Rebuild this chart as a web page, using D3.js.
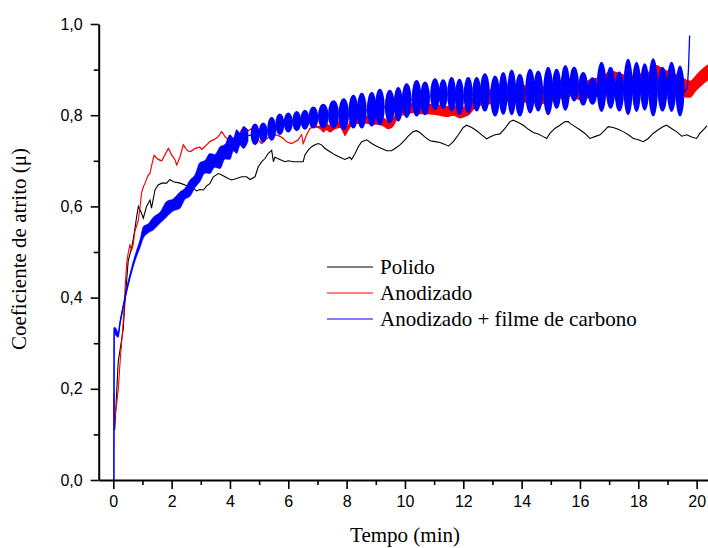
<!DOCTYPE html>
<html><head><meta charset="utf-8">
<script src="https://cdn.jsdelivr.net/npm/d3@7"></script>
<style>body{margin:0;background:#fff}svg{display:block}</style>
</head><body><svg id="c" width="708" height="548"></svg>
<script>
const xMajorTicks = [0,2,4,6,8,10,12,14,16,18,20];
const xMinorTicks = [1,3,5,7,9,11,13,15,17,19];
const yMajorTicks = [0,0.2,0.4,0.6,0.8,1.0];
const yMinorTicks = [0.1,0.3,0.5,0.7,0.9];
const xTitle = "Tempo (min)";
const yTitle = "Coeficiente de atrito (\u03bc)";
const seriesNames = ["Polido","Anodizado","Anodizado + filme de carbono"];
const seriesColors = ["#000000","#ff0000","#0000ff"];

// Polido: [tempo, coeficiente]
const polido = [
[0.05,.11],[0.17,.26],[0.34,.33],[0.4,.39],[0.51,.48],[0.63,.51],[0.69,.53],[0.74,.55],[0.8,.577],[0.86,.6],
[0.97,.585],[1.03,.574],[1.14,.6],[1.26,.614],[1.31,.596],[1.43,.636],[1.54,.647],[1.66,.651],[1.83,.651],[1.94,.659],
[2.06,.654],[2.29,.651],[2.46,.647],[2.63,.641],[2.74,.64],[2.86,.634],[2.97,.637],[3.09,.636],[3.2,.645],[3.31,.65],
[3.43,.665],[3.6,.672],[3.72,.669],[3.83,.665],[3.94,.661],[4.06,.658],[4.23,.661],[4.4,.665],[4.57,.665],[4.69,.659],
[4.86,.665],[4.97,.687],[5.09,.698],[5.2,.705],[5.31,.716],[5.43,.723],[5.49,.698],[5.54,.708],[5.71,.703],[5.89,.698],
[6.0,.7],[6.17,.698],[6.4,.698],[6.51,.698],[6.57,.713],[6.69,.724],[6.8,.731],[6.91,.735],[7.03,.738],[7.14,.735],
[7.26,.727],[7.43,.72],[7.6,.713],[7.77,.708],[7.94,.703],[8.11,.708],[8.17,.703],[8.29,.716],[8.4,.731],[8.52,.742],
[8.69,.746],[8.86,.738],[9.03,.732],[9.2,.727],[9.37,.722],[9.54,.722],[9.66,.727],[9.83,.735],[10.0,.746],[10.11,.754],
[10.28,.764],[10.4,.766],[10.51,.762],[10.69,.752],[10.86,.744],[11.03,.742],[11.2,.74],[11.37,.736],[11.49,.732],[11.66,.742],
[11.83,.757],[12.0,.773],[12.11,.778],[12.29,.773],[12.46,.766],[12.63,.757],[12.8,.748],[12.91,.752],[13.09,.757],[13.26,.759],
[13.43,.771],[13.6,.786],[13.71,.789],[13.89,.784],[14.06,.778],[14.23,.769],[14.4,.762],[14.57,.759],[14.74,.753],[14.86,.749],
[14.97,.76],[15.14,.771],[15.31,.778],[15.49,.786],[15.6,.786],[15.66,.782],[15.83,.775],[16.0,.768],[16.17,.76],[16.34,.749],
[16.51,.753],[16.69,.757],[16.86,.768],[16.97,.775],[17.14,.773],[17.31,.769],[17.48,.764],[17.66,.757],[17.83,.749],[18.0,.746],
[18.17,.742],[18.34,.749],[18.51,.76],[18.68,.768],[18.86,.775],[18.97,.778],[19.14,.771],[19.31,.764],[19.49,.754],[19.66,.757],
[19.83,.752],[20.0,.749],[20.11,.76],[20.23,.768],[20.36,.777]
];

// Anodizado: [tempo, coeficiente, meia-amplitude da oscilacao]
const anodizado = [
[0.02,.19,.001],[0.03,.11,.001],[0.06,.139,.001],[0.17,.197,.001],[0.23,.256,.001],[0.32,.329,.001],[0.37,.373,.001],[0.4,.417,.001],
[0.46,.475,.001],[0.51,.497,.001],[0.57,.515,.001],[0.63,.504,.001],[0.69,.519,.001],[0.74,.545,.001],[0.86,.57,.001],[0.92,.6,.001],
[0.97,.629,.001],[1.03,.643,.001],[1.09,.651,.001],[1.2,.669,.001],[1.26,.673,.001],[1.32,.691,.001],[1.4,.712,.001],[1.5,.705,.001],
[1.66,.7,.001],[1.77,.713,.001],[1.89,.727,.001],[2.0,.713,.001],[2.12,.702,.001],[2.17,.691,.001],[2.29,.709,.001],[2.4,.735,.001],
[2.52,.724,.001],[2.63,.72,.001],[2.8,.727,.001],[2.97,.73,.001],[3.03,.725,.001],[3.2,.735,.001],[3.31,.742,.001],[3.49,.748,.001],
[3.6,.753,.001],[3.72,.764,.001],[3.83,.753,.001],[3.94,.746,.001],[4.06,.735,.001],[4.11,.722,.001],[4.17,.735,.001],[4.29,.753,.001],
[4.4,.768,.001],[4.51,.771,.001],[4.63,.766,.001],[4.74,.771,.001],[4.86,.76,.001],[4.97,.746,.001],[5.09,.738,.001],[5.2,.746,.001],
[5.37,.753,.001],[5.54,.757,.001],[5.71,.754,.001],[5.83,.749,.001],[5.94,.742,.001],[6.11,.738,.001],[6.23,.742,.001],[6.34,.746,.001],
[6.46,.757,.001],[6.51,.738,.001],[6.63,.757,.001],[6.74,.771,.001],[6.91,.775,.002],[7.09,.773,.004],[7.2,.768,.006],[7.31,.775,.008],
[7.43,.77,.008],[7.6,.777,.008],[7.77,.78,.008],[7.89,.768,.008],[7.94,.762,.008],[8.06,.774,.008],[8.23,.788,.009],[8.46,.79,.009],
[8.69,.79,.009],[8.86,.788,.009],[9.09,.788,.009],[9.26,.785,.01],[9.43,.779,.01],[9.6,.785,.01],[9.71,.798,.01],[9.89,.809,.01],
[10.06,.812,.011],[10.28,.816,.011],[10.51,.813,.011],[10.74,.813,.011],[10.97,.813,.012],[11.2,.811,.012],[11.43,.808,.012],[11.66,.811,.012],
[11.89,.805,.012],[12.06,.808,.012],[12.23,.815,.013],[12.34,.825,.014],[12.51,.834,.015],[12.8,.839,.016],[13.03,.842,.017],[13.26,.845,.018],
[13.49,.848,.018],[13.71,.845,.018],[13.94,.848,.019],[14.17,.846,.019],[14.4,.842,.019],[14.51,.852,.02],[14.63,.843,.02],[14.86,.847,.02],
[15.09,.85,.02],[15.31,.855,.02],[15.54,.86,.02],[15.66,.861,.02],[15.89,.855,.02],[16.11,.852,.02],[16.34,.859,.02],[16.57,.862,.02],
[16.8,.866,.02],[17.03,.878,.02],[17.26,.875,.02],[17.49,.87,.02],[17.71,.867,.02],[17.94,.87,.02],[18.17,.873,.02],[18.4,.877,.02],
[18.63,.89,.02],[18.86,.882,.02],[19.09,.876,.02],[19.31,.87,.02],[19.54,.862,.02],[19.66,.858,.02],[19.77,.857,.019],[20.0,.872,.018],
[20.23,.886,.018],[20.39,.894,.018]
];

// Anodizado + filme de carbono, first minutes: [tempo, centro, meia-amplitude]
const carbonoInicio = [
[0.02,0.0,.001],[0.03,.33,.005],[0.09,.325,.008],[0.17,.318,.005],[0.23,.344,.004],[0.34,.38,.004],[0.46,.417,.005],[0.57,.446,.005],
[0.69,.475,.006],[0.8,.497,.007],[0.92,.519,.009],[1.03,.543,.013],[1.2,.552,.01],[1.37,.562,.014],[1.6,.575,.012],[1.83,.594,.017],
[2.05,.603,.013],[2.29,.614,.018],[2.45,.627,.012],[2.63,.64,.018],[2.8,.655,.014],[2.97,.675,.021],[3.15,.687,.014],[3.31,.694,.022],
[3.48,.7,.014],[3.66,.707,.024],[3.83,.72,.016],[4.0,.73,.027],[4.12,.736,.014],[4.23,.742,.026],[4.35,.747,.013],[4.46,.751,.024],
[4.62,.755,.012]
];
// Anodizado + filme de carbono, each oscillation cycle: [tempo, centro, meia-amplitude]
const carbonoCiclos = [
[4.86,.758,.024],[5.14,.762,.022],[5.43,.77,.026],[5.71,.78,.024],[6.0,.784,.022],[6.29,.787,.022],[6.57,.79,.022],[6.86,.795,.024],
[7.2,.798,.027],[7.55,.802,.031],[7.9,.802,.035],[8.23,.808,.037],[8.52,.81,.039],[8.86,.813,.038],[9.14,.818,.04],[9.48,.819,.037],
[9.77,.824,.038],[10.06,.832,.038],[10.4,.837,.04],[10.69,.837,.037],[11.03,.846,.035],[11.31,.846,.033],[11.6,.846,.038],[11.87,.84,.04],
[12.17,.844,.04],[12.46,.846,.038],[12.74,.85,.042],[13.09,.842,.045],[13.37,.848,.047],[13.66,.85,.05],[13.94,.844,.047],[14.29,.853,.049],
[14.57,.853,.045],[14.91,.853,.053],[15.2,.858,.044],[15.5,.86,.05],[15.8,.868,.038],[16.11,.858,.037],[16.43,.853,.03],[16.74,.862,.055],
[17.05,.86,.046],[17.35,.852,.044],[17.65,.862,.062],[17.94,.862,.055],[18.22,.862,.052],[18.51,.861,.064],[18.83,.857,.049],[19.14,.862,.055],
[19.43,.853,.056]
];
// Anodizado + filme de carbono, final spike: [tempo, valor]
const carbonoFim = [[19.6,.852],[19.68,.86],[19.72,.9],[19.76,.975]];

const svg = d3.select("#c");
const x = d3.scaleLinear().domain([-0.5, 20.39]).range([98.7, 708]);
const y = d3.scaleLinear().domain([0, 1]).range([480, 24]);
const fmt = d => d.toFixed(1).replace(".", ",");

// axes
const gx = svg.append("g").attr("transform", "translate(0,480)");
gx.call(d3.axisBottom(x).tickValues(xMajorTicks).tickSize(9).tickSizeOuter(0).tickPadding(7).tickFormat(d3.format("d")));
const gxm = svg.append("g").attr("transform", "translate(0,480)");
gxm.call(d3.axisBottom(x).tickValues(xMinorTicks).tickSize(5).tickSizeOuter(0).tickFormat(""));
gxm.select(".domain").remove();
const gy = svg.append("g").attr("transform", "translate(98.7,0)");
gy.call(d3.axisLeft(y).tickValues(yMajorTicks).tickSize(8).tickSizeOuter(0).tickPadding(8).tickFormat(fmt));
const gym = svg.append("g").attr("transform", "translate(98.7,0)");
gym.call(d3.axisLeft(y).tickValues(yMinorTicks).tickSize(5).tickSizeOuter(0).tickFormat(""));
gym.select(".domain").remove();
svg.selectAll(".domain").attr("stroke", "#000").attr("stroke-width", 2);
svg.selectAll(".tick line").attr("stroke", "#000").attr("stroke-width", 1.6);
svg.selectAll(".tick text").attr("font-family", "'Liberation Sans', Arial, sans-serif").attr("font-size", 16).attr("fill", "#000");

// series
const line = d3.line().x(d => x(d[0])).y(d => y(d[1]));
const band = d3.area().x(d => x(d[0])).y0(d => y(d[1] - d[2])).y1(d => y(d[1] + d[2])).curve(d3.curveMonotoneX);
const plot = svg.append("g");
plot.append("path").datum(polido).attr("d", line).attr("fill", "none").attr("stroke", seriesColors[0]).attr("stroke-width", 1.1);
plot.append("path").datum(anodizado).attr("d", band).attr("fill", seriesColors[1]).attr("stroke", "none");
plot.append("path").datum(anodizado).attr("d", line).attr("fill", "none").attr("stroke", seriesColors[1]).attr("stroke-width", 1.1);

const blue = seriesColors[2];
plot.append("path").datum(carbonoInicio).attr("d", band).attr("fill", blue).attr("stroke", blue).attr("stroke-width", 0.6);
const centreLine = carbonoInicio.map(d => [d[0], d[1]]).concat(carbonoCiclos.map(d => [d[0], d[1]]), carbonoFim);
plot.append("path").datum(centreLine).attr("d", line).attr("fill", "none").attr("stroke", blue).attr("stroke-width", 1.3);
plot.selectAll("ellipse.cyc").data(carbonoCiclos).join("ellipse").attr("class", "cyc")
  .attr("cx", d => x(d[0])).attr("cy", d => y(d[1]))
  .attr("rx", (d, i) => {
    const prev = i > 0 ? carbonoCiclos[i - 1][0] : d[0] - 0.28;
    const next = i < carbonoCiclos.length - 1 ? carbonoCiclos[i + 1][0] : d[0] + 0.28;
    return (x(next) - x(prev)) / 4 + 0.3;
  })
  .attr("ry", d => y(d[1] - d[2]) - y(d[1]))
  .attr("fill", blue);

// legend
const leg = svg.append("g").attr("font-family", "'Liberation Serif', 'Times New Roman', serif").attr("font-size", 21);
seriesNames.forEach((n, i) => {
  const yy = 267 + i * 26;
  leg.append("line").attr("x1", 327).attr("x2", 373).attr("y1", yy).attr("y2", yy)
    .attr("stroke", seriesColors[i]).attr("stroke-width", 1);
  leg.append("text").attr("x", 380).attr("y", yy + 7).text(n).attr("fill", "#000");
});

// titles
svg.append("text").attr("x", 405).attr("y", 542).attr("text-anchor", "middle")
  .attr("font-family", "'Liberation Serif', 'Times New Roman', serif").attr("font-size", 21).text(xTitle);
svg.append("text").attr("transform", "translate(26,249) rotate(-90)").attr("text-anchor", "middle")
  .attr("font-family", "'Liberation Serif', 'Times New Roman', serif").attr("font-size", 21).text(yTitle);
</script>
</body></html>
